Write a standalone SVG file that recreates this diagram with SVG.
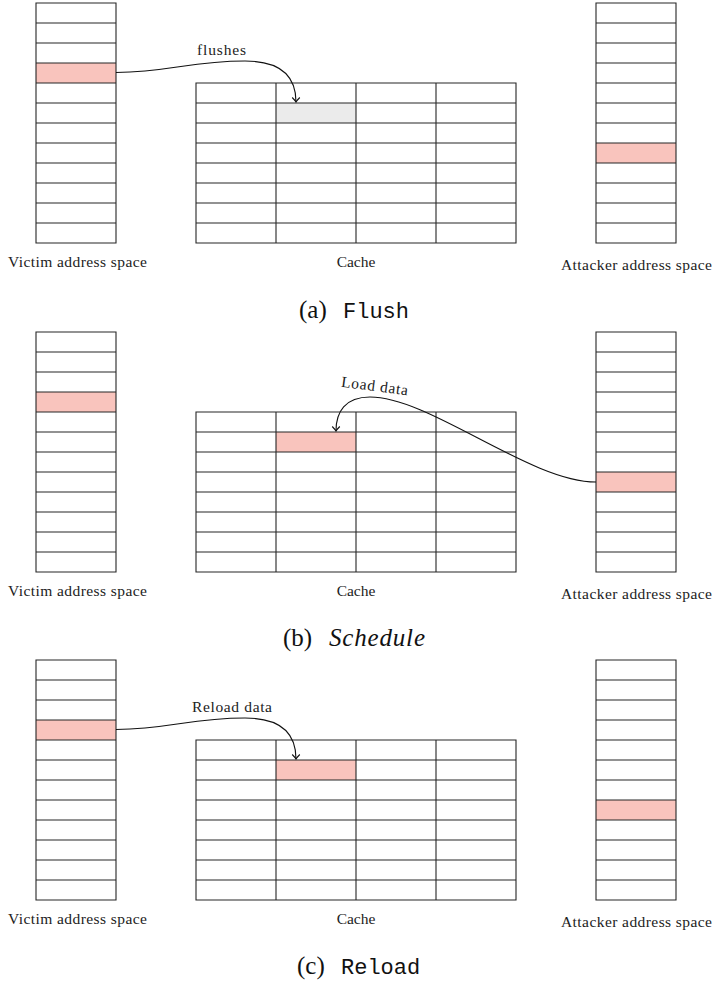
<svg xmlns="http://www.w3.org/2000/svg" width="713" height="983" viewBox="0 0 713 983">
<style>
.grid{fill:none;stroke:#262626;stroke-width:1.1}
.hot{fill:#f9c4bd}
.gray{fill:#ebebeb}
.lbl{font-family:"Liberation Serif","Times New Roman",serif;font-size:15.5px;fill:#222}
.cap{font-family:"Liberation Serif","Times New Roman",serif;font-size:25px;fill:#111}
.mono{font-family:"Liberation Mono","Courier New",monospace;font-size:22px;fill:#111}
.edge{fill:none;stroke:#111;stroke-width:1.1}
</style>
<defs>
<marker id="to" markerUnits="userSpaceOnUse" markerWidth="12" markerHeight="12" viewBox="-6 -6 12 12" refX="0" refY="0" orient="auto" overflow="visible">
<path d="M-4.5,-3.8 Q-1.2,-0.6 0,0 Q-1.2,0.6 -4.5,3.8" fill="none" stroke="#111" stroke-width="1.1"/>
</marker>
<g id="colLines">
<path class="grid" d="M36,3H116V243H36Z M36,23H116 M36,43H116 M36,63H116 M36,83H116 M36,103H116 M36,123H116 M36,143H116 M36,163H116 M36,183H116 M36,203H116 M36,223H116"/>
</g>
<g id="cacheLines">
<path class="grid" d="M196,83H516V243H196Z M196,103H516 M196,123H516 M196,143H516 M196,163H516 M196,183H516 M196,203H516 M196,223H516 M276,83V243 M356,83V243 M436,83V243"/>
</g>
</defs>

<!-- Panel (a) -->
<g id="panel-a">
<g id="a-victim">
<rect class="hot" x="36" y="63" width="80" height="20"/>
<use href="#colLines"/>
<text class="lbl" x="8" y="267" textLength="139" lengthAdjust="spacing">Victim address space</text>
</g>
<g id="a-cache">
<rect class="gray" x="276" y="103" width="80" height="20"/>
<use href="#cacheLines"/>
<text class="lbl" x="356" y="267" text-anchor="middle">Cache</text>
</g>
<g id="a-attacker">
<rect class="hot" x="596" y="143" width="80" height="20"/>
<use href="#colLines" transform="translate(560,0)"/>
<text class="lbl" x="561" y="270" textLength="151" lengthAdjust="spacing">Attacker address space</text>
</g>
<g id="a-caption">
<text class="cap" x="299" y="318">(a)</text>
<text class="mono" x="343" y="318">Flush</text>
</g>
</g>

<!-- Panel (b) -->
<g id="panel-b">
<g id="b-victim">
<rect class="hot" x="36" y="392" width="80" height="20"/>
<use href="#colLines" transform="translate(0,329)"/>
<text class="lbl" x="8" y="596" textLength="139" lengthAdjust="spacing">Victim address space</text>
</g>
<g id="b-cache">
<rect class="hot" x="276" y="432" width="80" height="20"/>
<use href="#cacheLines" transform="translate(0,329)"/>
<text class="lbl" x="356" y="596" text-anchor="middle">Cache</text>
</g>
<g id="b-attacker">
<rect class="hot" x="596" y="472" width="80" height="20"/>
<use href="#colLines" transform="translate(560,329)"/>
<text class="lbl" x="561" y="599" textLength="151" lengthAdjust="spacing">Attacker address space</text>
</g>
<g id="b-caption">
<text class="cap" x="283" y="646">(b)</text>
<text class="cap" x="329" y="646" font-style="italic" textLength="96" lengthAdjust="spacing">Schedule</text>
</g>
</g>

<!-- Panel (c) -->
<g id="panel-c">
<g id="c-victim">
<rect class="hot" x="36" y="720" width="80" height="20"/>
<use href="#colLines" transform="translate(0,657)"/>
<text class="lbl" x="8" y="924" textLength="139" lengthAdjust="spacing">Victim address space</text>
</g>
<g id="c-cache">
<rect class="hot" x="276" y="760" width="80" height="20"/>
<use href="#cacheLines" transform="translate(0,657)"/>
<text class="lbl" x="356" y="924" text-anchor="middle">Cache</text>
</g>
<g id="c-attacker">
<rect class="hot" x="596" y="800" width="80" height="20"/>
<use href="#colLines" transform="translate(560,657)"/>
<text class="lbl" x="561" y="927" textLength="151" lengthAdjust="spacing">Attacker address space</text>
</g>
<g id="c-caption">
<text class="cap" x="297" y="974">(c)</text>
<text class="mono" x="341" y="974">Reload</text>
</g>
</g>

<!-- Connectors -->
<g id="connectors">
<path class="edge" d="M116,72.5 C170,72 190,61 245,61 C280,61 296,76 296,102" marker-end="url(#to)"/>
<text class="lbl" x="197" y="55" textLength="49" lengthAdjust="spacing">flushes</text>
<path class="edge" d="M596,482 C530,482 430,397 370,397 C345,397 336,412 336,431" marker-end="url(#to)"/>
<text class="lbl" x="374" y="391" text-anchor="middle" textLength="67" lengthAdjust="spacing" transform="rotate(7.5 374 391)">Load data</text>
<path class="edge" d="M116,729.5 C170,729 190,718 245,718 C280,718 296,733 296,759" marker-end="url(#to)"/>
<text class="lbl" x="192" y="712" textLength="80" lengthAdjust="spacing">Reload data</text>
</g>
</svg>
